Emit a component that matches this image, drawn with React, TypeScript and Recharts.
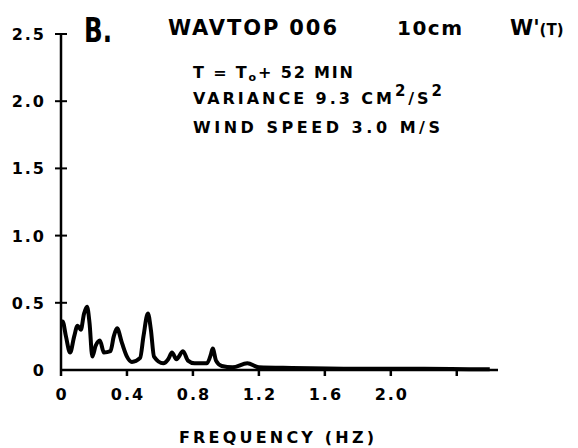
import { LineChart, Line, XAxis, YAxis } from 'recharts'

// frequency (Hz) and spectral density
const FREQ = [
    0, 0.01, 0.03, 0.055, 0.08, 0.1, 0.12, 0.14, 0.158, 0.173, 0.19, 0.21, 0.236, 0.26,
    0.3, 0.32, 0.34, 0.37, 0.4, 0.43, 0.48, 0.5, 0.527, 0.545, 0.564, 0.62, 0.65, 0.673,
    0.7, 0.74, 0.77, 0.81, 0.885, 0.91, 0.92, 0.94, 0.975, 1.04, 1.13, 1.2, 1.4, 1.8, 2.2, 2.6,
]
const POWER = [
    0.36, 0.36, 0.25, 0.13, 0.25, 0.33, 0.3, 0.42, 0.47, 0.35, 0.1, 0.18, 0.22, 0.13,
    0.14, 0.25, 0.31, 0.2, 0.1, 0.06, 0.09, 0.25, 0.42, 0.3, 0.1, 0.05, 0.08, 0.13,
    0.08, 0.14, 0.07, 0.05, 0.05, 0.12, 0.16, 0.07, 0.03, 0.02, 0.05, 0.02, 0.015, 0.01, 0.01, 0.005,
]
const X_TICKS = [0, 0.4, 0.8, 1.2, 1.6, 2.0, 2.4]
const X_LABELS = ['0', '0.4', '0.8', '1.2', '1.6', '2.0', '']
const Y_TICKS = [0, 0.5, 1.0, 1.5, 2.0, 2.5]
const Y_LABELS = ['0', '0.5', '1.0', '1.5', '2.0', '2.5']

const data = FREQ.map((f, i) => ({ f, p: POWER[i] }))

const FONT = '"DejaVu Sans", sans-serif'
const COND = '"DejaVu Sans Condensed", "DejaVu Sans", sans-serif'

function YTick({ x, y, payload }: any) {
    const i = Y_TICKS.indexOf(payload.value)
    return (
        <g>
            {payload.value !== 0 && (
                <line x1={x - 6} x2={x + 6} y1={y} y2={y} stroke="#000" strokeWidth={2} />
            )}
            <text x={x - 15} y={y} dy={6} textAnchor="end" fontFamily={FONT} fontWeight="bold" fontSize={16} letterSpacing={2} fill="#000">
                {Y_LABELS[i]}
            </text>
        </g>
    )
}

function XTick({ x, y, payload }: any) {
    const i = X_TICKS.indexOf(payload.value)
    return (
        <text x={x + 1} y={y} dy={22} textAnchor="middle" fontFamily={FONT} fontWeight="bold" fontSize={16} letterSpacing={2} fill="#000">
            {X_LABELS[i]}
        </text>
    )
}

export default function App() {
    return (
        <div style={{ position: 'absolute', left: 0, top: 0, width: 578, height: 448, background: '#fff' }}>
            <LineChart width={578} height={448} data={data} margin={{ top: 34, right: 80, left: 0, bottom: 48 }}>
                <XAxis
                    dataKey="f"
                    type="number"
                    domain={[0, 2.65]}
                    ticks={X_TICKS}
                    tick={<XTick />}
                    stroke="#000"
                    strokeWidth={2.5}
                    tickSize={6}
                    height={30}
                />
                <YAxis
                    type="number"
                    domain={[0, 2.5]}
                    ticks={Y_TICKS}
                    tick={<YTick />}
                    tickLine={false}
                    tickSize={0}
                    tickMargin={0}
                    stroke="#000"
                    strokeWidth={2.5}
                    width={61}
                />
                <Line
                    dataKey="p"
                    type="monotone"
                    stroke="#000"
                    strokeWidth={4}
                    dot={false}
                    isAnimationActive={false}
                />
            </LineChart>
            <svg width={578} height={448} style={{ position: 'absolute', left: 0, top: 0, pointerEvents: 'none' }}>
                <g fontFamily={FONT} fontWeight="bold" fill="#000" style={{ whiteSpace: 'pre' }}>
                    <text x={84} y={42} fontSize={34} fontFamily={COND} textLength={28} lengthAdjust="spacingAndGlyphs">B.</text>
                    <text x={168} y={35} fontSize={21} textLength={169} lengthAdjust="spacing">WAVTOP 006</text>
                    <text x={397} y={35} fontSize={20} textLength={65} lengthAdjust="spacing">10cm</text>
                    <text x={510} y={35} fontSize={21}>W'<tspan fontSize={15}>(T)</tspan></text>
                    <text x={193} y={78} fontSize={16} textLength={160} lengthAdjust="spacing">
                        T = T<tspan fontSize={11} dy={3}>o</tspan><tspan dy={-3}>+ 52 MIN</tspan>
                    </text>
                    <text x={193} y={104} fontSize={16} textLength={249} lengthAdjust="spacing">
                        VARIANCE  9.3 CM<tspan fontSize={15} dy={-8}>2</tspan><tspan dy={8}>/S</tspan><tspan fontSize={15} dy={-8}>2</tspan>
                    </text>
                    <text x={193} y={133} fontSize={16} textLength={247} lengthAdjust="spacing">WIND SPEED 3.0 M/S</text>
                    <text x={179} y={443} fontSize={16} textLength={195} lengthAdjust="spacing">FREQUENCY (HZ)</text>
                </g>
            </svg>
        </div>
    )
}
